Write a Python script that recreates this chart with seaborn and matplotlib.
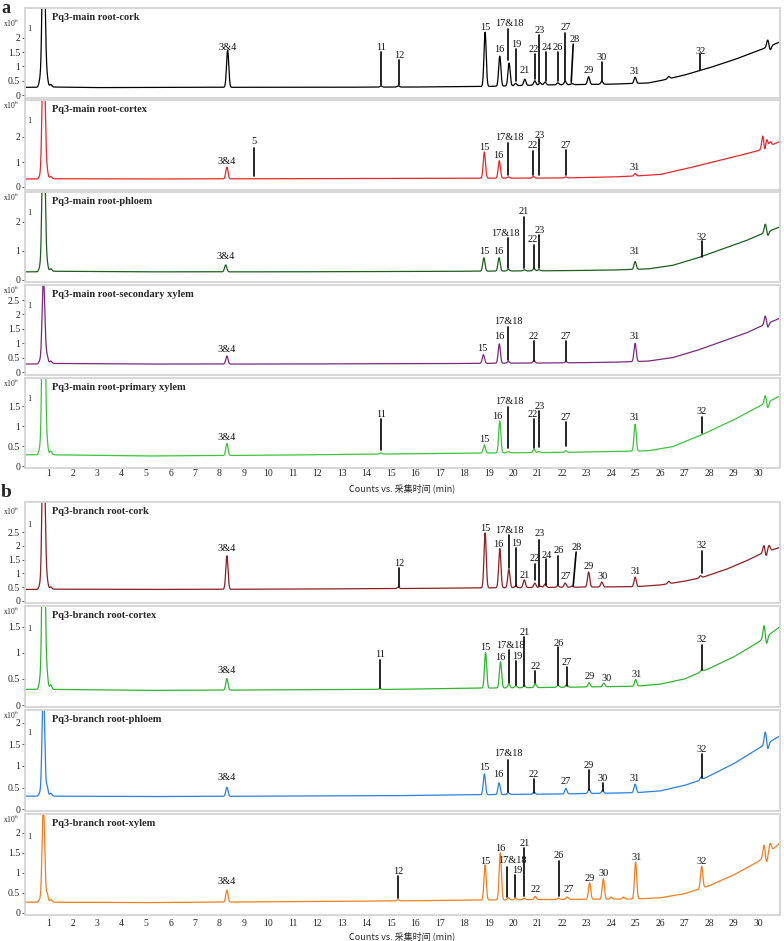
import numpy as np
import pandas as pd
import matplotlib
matplotlib.use("Agg")
import matplotlib.pyplot as plt
import matplotlib.transforms as mtrans
import seaborn as sns

sns.set_theme(style="white")
plt.rcParams["font.family"] = ["Liberation Serif", "Noto Sans CJK SC", "DejaVu Sans"]
plt.rcParams["mathtext.fontset"] = "stix"

# ---------------- data ----------------
x_ticks = list(range(1, 31))
x_label = "Counts vs. 采集时间 (min)"
group_labels = ["a", "b"]
titles = ["Pq3-main root-cork", "Pq3-main root-cortex", "Pq3-main root-phloem",
          "Pq3-main root-secondary xylem", "Pq3-main root-primary xylem",
          "Pq3-branch root-cork", "Pq3-branch root-cortex",
          "Pq3-branch root-phloem", "Pq3-branch root-xylem"]
colors = ["#000000", "#e8262b", "#1d5e1d", "#7a2a7a", "#3cc43c",
          "#8b1f22", "#2fb52f", "#2a7fe3", "#f27f1f"]

# panel 1 : main root cork
p1_base_t = [0.05, 0.6, 0.7, 1.2, 3, 8, 12, 16, 19, 21, 24, 25.5, 26, 27, 28, 29, 30, 30.9]
p1_base_y = [0.27, 0.27, 0.22, 0.28, 0.26, 0.27, 0.27, 0.28, 0.3, 0.35, 0.38, 0.42, 0.5, 0.7, 0.95, 1.23, 1.55, 1.86]
p1_peak_t = [0.67, 0.78, 0.85, 0.95, 1.1, 8.33, 14.6, 15.3, 18.85, 19.45, 19.83, 20.1, 20.47, 20.88, 21.1, 21.3,
             21.82, 22.12, 22.4, 23.08, 23.62, 24.98, 26.35, 30.4, 30.5]
p1_peak_h = [0.3, 4.0, 3.0, 0.35, 0.1, 1.3, 0.04, 0.04, 1.9, 1.05, 0.8, 0.08, 0.22, 0.15, 0.08, 0.1,
             0.07, 0.12, 0.04, 0.27, 0.1, 0.22, 0.08, 0.25, -0.15]
p1_labels = [("3&4", 8.33, 1.68), ("11", 14.6, 1.68, 1.5, 0.35), ("12", 15.33, 1.4, 1.23, 0.35),
             ("15", 18.85, 2.35), ("16", 19.42, 1.58), ("17&18", 19.85, 2.49, 19.8, 2.3, 19.8, 1.23),
             ("19", 20.12, 1.78, 1.6, 0.5), ("21", 20.47, 0.85), ("22", 20.85, 1.58, 20.88, 1.44, 20.88, 0.55),
             ("23", 21.08, 2.25, 21.06, 2.12, 21.06, 0.45), ("24", 21.35, 1.65, 21.32, 1.5, 21.32, 0.5),
             ("26", 21.82, 1.68, 1.5, 0.5), ("27", 22.15, 2.35, 22.12, 2.18, 22.12, 0.5),
             ("28", 22.5, 1.93, 22.45, 1.78, 22.37, 0.45), ("29", 23.08, 0.87), ("30", 23.63, 1.33, 1.16, 0.5),
             ("31", 24.98, 0.84), ("32", 27.65, 1.54, 1.42, 0.88)]

# panel 2 : main root cortex
p2_base_t = [0.05, 0.6, 0.7, 1.2, 5, 10, 15, 18, 22, 24, 25, 26, 27, 28, 29, 30, 30.9]
p2_base_y = [0.32, 0.32, 0.26, 0.33, 0.32, 0.33, 0.34, 0.35, 0.36, 0.4, 0.44, 0.5, 0.72, 0.96, 1.2, 1.45, 1.82]
p2_peak_t = [0.67, 0.78, 0.85, 0.95, 1.1, 8.3, 18.82, 19.43, 19.8, 20.82, 22.15, 24.98, 30.2, 30.28, 30.35, 30.5]
p2_peak_h = [0.15, 4.0, 3.0, 0.35, 0.1, 0.47, 1.05, 0.7, 0.05, 0.06, 0.04, 0.1, 0.55, -0.25, 0.35, 0.15]
p2_labels = [("3&4", 8.3, 1.04), ("5", 9.4, 1.8, 1.58, 0.44), ("15", 18.81, 1.6), ("16", 19.4, 1.24),
             ("17&18", 19.83, 1.96, 19.77, 1.76, 19.77, 0.48), ("22", 20.8, 1.64, 1.44, 0.48),
             ("23", 21.1, 2.08, 21.06, 1.92, 21.06, 0.48), ("27", 22.16, 1.68, 1.48, 0.5), ("31", 24.98, 0.8)]

# panel 3 : main root phloem
p3_base_t = [0.05, 0.6, 0.7, 1.2, 5, 10, 15, 18, 22, 24, 25.5, 26.5, 27.5, 28.5, 29.5, 30.2, 30.9]
p3_base_y = [0.28, 0.28, 0.22, 0.3, 0.28, 0.28, 0.29, 0.3, 0.32, 0.34, 0.38, 0.5, 0.75, 1.05, 1.35, 1.6, 1.83]
p3_peak_t = [0.67, 0.78, 0.85, 0.95, 1.1, 8.25, 18.8, 19.42, 19.8, 20.45, 20.85, 21.05, 24.98, 30.3, 30.4]
p3_peak_h = [0.2, 4.0, 3.0, 0.3, 0.1, 0.24, 0.46, 0.46, 0.06, 0.04, 0.08, 0.04, 0.27, 0.3, -0.15]
p3_labels = [("3&4", 8.25, 0.8), ("15", 18.8, 0.97), ("16", 19.4, 0.97),
             ("17&18", 19.67, 1.6, 19.78, 1.45, 19.78, 0.4), ("21", 20.42, 2.35, 20.45, 2.18, 20.45, 0.4),
             ("22", 20.8, 1.38, 20.85, 1.22, 20.85, 0.4), ("23", 21.1, 1.72, 21.05, 1.56, 21.05, 0.4),
             ("31", 24.98, 0.97), ("32", 27.7, 1.48, 1.33, 0.8)]

# panel 4 : main root secondary xylem
p4_base_t = [0.05, 0.6, 0.7, 1.2, 5, 10, 15, 18, 22, 24, 25.5, 26.5, 27.5, 28.5, 29.5, 30.2, 30.9]
p4_base_y = [0.28, 0.28, 0.22, 0.3, 0.28, 0.28, 0.29, 0.3, 0.32, 0.34, 0.38, 0.5, 0.75, 1.05, 1.35, 1.62, 1.87]
p4_peak_t = [0.67, 0.78, 0.84, 0.95, 1.1, 8.3, 18.78, 19.43, 19.8, 20.85, 22.15, 24.98, 30.3, 30.4]
p4_peak_h = [0.15, 2.1, 1.6, 0.3, 0.1, 0.28, 0.3, 0.67, 0.06, 0.08, 0.04, 0.63, 0.3, -0.15]
p4_labels = [("3&4", 8.3, 0.8), ("15", 18.75, 0.83), ("16", 19.42, 1.22),
             ("17&18", 19.8, 1.74, 19.78, 1.57, 19.78, 0.42), ("22", 20.85, 1.25, 1.08, 0.4),
             ("27", 22.15, 1.25, 1.08, 0.4), ("31", 24.98, 1.25)]

# panel 5 : main root primary xylem
p5_base_t = [0.05, 0.6, 0.7, 1.2, 5, 10, 15, 18, 22, 24, 25.5, 26.5, 27.7, 29, 30, 30.9]
p5_base_y = [0.28, 0.28, 0.22, 0.28, 0.25, 0.27, 0.3, 0.32, 0.34, 0.36, 0.38, 0.48, 0.78, 1.15, 1.48, 1.75]
p5_peak_t = [0.67, 0.78, 0.85, 0.95, 1.1, 8.3, 14.6, 18.82, 19.45, 19.8, 20.85, 21.05, 22.15, 24.98, 30.3, 30.4]
p5_peak_h = [0.2, 4.0, 3.0, 0.3, 0.1, 0.3, 0.03, 0.2, 0.8, 0.03, 0.08, 0.03, 0.04, 0.67, 0.2, -0.15]
p5_labels = [("3&4", 8.3, 0.72), ("11", 14.6, 1.28, 1.17, 0.4), ("15", 18.8, 0.67), ("16", 19.35, 1.23),
             ("17&18", 19.85, 1.6, 19.78, 1.48, 19.78, 0.45), ("22", 20.8, 1.28, 20.85, 1.17, 20.85, 0.45),
             ("23", 21.08, 1.48, 21.05, 1.38, 21.05, 0.48), ("27", 22.15, 1.22, 1.1, 0.5),
             ("31", 24.95, 1.2), ("32", 27.7, 1.35, 1.22, 0.83)]

# panel 6 : branch root cork
p6_base_t = [0.05, 0.6, 0.7, 1.2, 5, 10, 15, 18, 22, 25, 26, 27, 27.7, 28.7, 29.5, 30.2, 30.9]
p6_base_y = [0.42, 0.42, 0.36, 0.43, 0.42, 0.43, 0.45, 0.47, 0.5, 0.52, 0.58, 0.72, 0.85, 1.15, 1.45, 1.75, 1.95]
p6_peak_t = [0.67, 0.78, 0.85, 0.95, 1.1, 8.3, 15.3, 18.85, 19.45, 19.82, 20.1, 20.45, 20.88, 21.1, 21.3,
             21.82, 22.12, 22.4, 23.08, 23.62, 24.98, 26.35, 27.65, 30.25, 30.32, 30.45]
p6_peak_h = [0.2, 4.5, 3.0, 0.35, 0.1, 1.22, 0.05, 2.0, 1.43, 0.66, 0.06, 0.28, 0.16, 0.05, 0.12,
             0.06, 0.15, 0.04, 0.55, 0.18, 0.35, 0.08, 0.08, 0.3, -0.2, 0.2]
p6_labels = [("3&4", 8.3, 1.9), ("12", 15.35, 1.38, 1.2, 0.5), ("15", 18.85, 2.65), ("16", 19.4, 2.07),
             ("17&18", 19.85, 2.58, 19.83, 2.4, 19.83, 1.2), ("19", 20.12, 2.1, 20.1, 1.93, 20.1, 0.55),
             ("21", 20.45, 0.92), ("22", 20.88, 1.53, 1.35, 0.76), ("23", 21.08, 2.44, 21.06, 2.22, 21.06, 0.56),
             ("24", 21.35, 1.67, 21.32, 1.52, 21.32, 0.58), ("26", 21.85, 1.85, 21.82, 1.64, 21.82, 0.58),
             ("27", 22.15, 0.88), ("28", 22.6, 1.96, 22.57, 1.78, 22.45, 0.55), ("29", 23.1, 1.27),
             ("30", 23.65, 0.88), ("31", 25.0, 1.09), ("32", 27.7, 2.0, 1.82, 1.03)]

# panel 7 : branch root cortex
p7_base_t = [0.05, 0.6, 0.7, 1.2, 5, 10, 15, 18, 22, 25, 26, 27, 28, 29, 30, 30.9]
p7_base_y = [0.3, 0.3, 0.24, 0.3, 0.28, 0.29, 0.3, 0.32, 0.34, 0.36, 0.4, 0.5, 0.7, 0.92, 1.2, 1.5]
p7_peak_t = [0.67, 0.78, 0.85, 0.95, 1.1, 8.3, 14.55, 18.87, 19.48, 19.82, 20.1, 20.45, 20.9, 21.83, 22.18,
             23.1, 23.7, 25.0, 27.7, 30.25, 30.35]
p7_peak_h = [0.2, 3.0, 2.0, 0.3, 0.1, 0.22, 0.02, 0.68, 0.5, 0.07, 0.04, 0.04, 0.07, 0.04, 0.05,
             0.08, 0.07, 0.13, 0.04, 0.25, -0.15]
p7_labels = [("3&4", 8.3, 0.67), ("11", 14.55, 0.96, 0.87, 0.33), ("15", 18.85, 1.1), ("16", 19.46, 0.92),
             ("17&18", 19.87, 1.15, 19.83, 1.06, 19.83, 0.42), ("19", 20.15, 0.94, 20.1, 0.85, 20.1, 0.38),
             ("21", 20.45, 1.4, 1.31, 0.37), ("22", 20.92, 0.73, 20.9, 0.65, 20.9, 0.42),
             ("26", 21.87, 1.19, 21.83, 1.12, 21.83, 0.38), ("27", 22.2, 0.81, 22.18, 0.73, 22.18, 0.36),
             ("29", 23.14, 0.54), ("30", 23.8, 0.5), ("31", 25.05, 0.58), ("32", 27.7, 1.25, 1.15, 0.67)]

# panel 8 : branch root phloem
p8_base_t = [0.05, 0.6, 0.7, 1.2, 5, 10, 15, 18, 22, 25, 26, 27, 27.7, 29, 30, 30.9]
p8_base_y = [0.3, 0.3, 0.24, 0.3, 0.29, 0.3, 0.31, 0.33, 0.35, 0.38, 0.42, 0.55, 0.68, 1.05, 1.4, 1.7]
p8_peak_t = [0.67, 0.78, 0.83, 0.95, 1.1, 8.3, 18.82, 19.42, 19.8, 20.85, 22.15, 23.1, 23.65, 24.98, 27.68,
             30.3, 30.4]
p8_peak_h = [0.1, 1.8, 1.2, 0.25, 0.08, 0.21, 0.48, 0.27, 0.04, 0.05, 0.13, 0.1, 0.06, 0.2, 0.07, 0.3, -0.15]
p8_labels = [("3&4", 8.3, 0.74), ("15", 18.82, 0.97), ("16", 19.4, 0.81), ("17&18", 19.8, 1.28, 1.15, 0.4),
             ("22", 20.85, 0.81, 0.7, 0.38), ("27", 22.15, 0.63), ("29", 23.1, 1.01, 0.9, 0.45),
             ("30", 23.65, 0.7, 0.6, 0.42), ("31", 24.98, 0.72), ("32", 27.7, 1.39, 1.27, 0.72)]

# panel 9 : branch root xylem
p9_base_t = [0.05, 0.6, 0.7, 1.2, 5, 10, 15, 18, 22, 25, 26, 27, 28, 29, 30, 30.9]
p9_base_y = [0.27, 0.27, 0.2, 0.27, 0.26, 0.28, 0.3, 0.32, 0.34, 0.35, 0.38, 0.48, 0.68, 0.95, 1.28, 1.75]
p9_peak_t = [0.67, 0.78, 0.83, 0.95, 1.1, 8.3, 15.3, 18.85, 19.47, 19.8, 20.1, 20.45, 20.9, 21.85, 22.2,
             23.12, 23.68, 24.0, 24.5, 25.0, 27.7, 30.25, 30.35, 30.5]
p9_peak_h = [0.1, 1.7, 1.2, 0.25, 0.08, 0.3, 0.03, 0.88, 1.18, 0.05, 0.04, 0.04, 0.08, 0.03, 0.06,
             0.41, 0.51, 0.05, 0.05, 0.93, 0.55, 0.3, -0.2, 0.2]
p9_labels = [("3&4", 8.3, 0.78), ("12", 15.3, 1.05, 0.92, 0.38), ("15", 18.85, 1.3), ("16", 19.48, 1.62),
             ("17&18", 19.98, 1.32, 19.75, 1.15, 19.75, 0.4), ("19", 20.15, 1.07, 20.08, 0.95, 20.08, 0.4),
             ("21", 20.48, 1.75, 20.45, 1.62, 20.45, 0.42), ("22", 20.93, 0.58),
             ("26", 21.87, 1.45, 1.3, 0.42), ("27", 22.28, 0.6), ("29", 23.14, 0.87), ("30", 23.7, 1.0),
             ("31", 25.05, 1.4), ("32", 27.7, 1.3)]

panels = [
    (p1_base_t, p1_base_y, p1_peak_t, p1_peak_h, p1_labels),
    (p2_base_t, p2_base_y, p2_peak_t, p2_peak_h, p2_labels),
    (p3_base_t, p3_base_y, p3_peak_t, p3_peak_h, p3_labels),
    (p4_base_t, p4_base_y, p4_peak_t, p4_peak_h, p4_labels),
    (p5_base_t, p5_base_y, p5_peak_t, p5_peak_h, p5_labels),
    (p6_base_t, p6_base_y, p6_peak_t, p6_peak_h, p6_labels),
    (p7_base_t, p7_base_y, p7_peak_t, p7_peak_h, p7_labels),
    (p8_base_t, p8_base_y, p8_peak_t, p8_peak_h, p8_labels),
    (p9_base_t, p9_base_y, p9_peak_t, p9_peak_h, p9_labels),
]

# ---------------- layout / style ----------------
W, H = 784, 941
frames = [(8, 98), (100, 190), (192, 282), (285, 375), (378, 468),
          (502, 603), (606, 707), (710, 811), (814, 915)]
ylims = [(-0.105, 3.05), (-0.12, 3.48), (-0.07, 3.03), (-0.1, 3.02), (-0.05, 2.2),
         (-0.073, 3.6), (-0.038, 1.9), (-0.045, 2.3), (-0.05, 2.475)]
yticks = [[0, 0.5, 1, 1.5, 2], [0, 1, 2], [0, 1, 2], [0, 0.5, 1, 1.5, 2, 2.5], [0, 0.5, 1, 1.5],
          [0, 0.5, 1, 1.5, 2, 2.5], [0, 0.5, 1, 1.5], [0, 0.5, 1, 1.5, 2], [0, 0.5, 1, 1.5, 2]]
x10_off = [15, 5, 5, 5, 5, 9, 5, 5, 5]
xlabel_px = {4: 488, 8: 936}
xtick_pad = {4: 1.0, 8: 3.0}
XL, XR = 25, 780
SIGMA = 0.045

fig = plt.figure(figsize=(W / 100, H / 100), dpi=100)
fig.patch.set_facecolor("white")

tgrid = np.linspace(0.05, 30.9, 6000)

for i, (bt, by, pt, ph, labs) in enumerate(panels):
    top, bot = frames[i]
    ax = fig.add_axes([XL / W, 1 - bot / H, (XR - XL) / W, (bot - top) / H])
    sig = np.interp(tgrid, bt, by)
    for t0, h0 in zip(pt, ph):
        sig = sig + h0 * np.exp(-0.5 * ((tgrid - t0) / SIGMA) ** 2)
    df = pd.DataFrame({"t": tgrid, "y": sig})
    sns.lineplot(data=df, x="t", y="y", ax=ax, color=colors[i], linewidth=0.9,
                 estimator=None, errorbar=None)
    ax.set_xlim(0.05, 30.9)
    ax.set_ylim(*ylims[i])
    ax.set_xlabel("")
    ax.set_ylabel("")
    ax.set_facecolor("white")
    for s in ax.spines.values():
        s.set_color("#d4d4d4")
        s.set_linewidth(1.3)
    ax.set_yticks(yticks[i])
    ax.set_yticklabels([("%g" % v) for v in yticks[i]], fontsize=7)
    ax.tick_params(axis="y", which="both", left=True, length=2.5, width=0.7, color="#555555", pad=1)
    if i in xtick_pad:
        ax.set_xticks(x_ticks)
        ax.set_xticklabels([str(v) for v in x_ticks], fontsize=7)
        ax.tick_params(axis="x", bottom=False, length=0, pad=xtick_pad[i])
    else:
        ax.set_xticks([])
    # annotations
    for lab in labs:
        name, tx, ty = lab[0], lab[1], lab[2]
        ax.text(tx, ty, name, ha="center", va="center", fontsize=7.5, color="#111111")
        if len(lab) == 5:
            ax.plot([tx, tx], [lab[3], lab[4]], color="black", lw=1.2)
        elif len(lab) == 7:
            ax.plot([lab[3], lab[5]], [lab[4], lab[6]], color="black", lw=1.2)
    trans = mtrans.blended_transform_factory(ax.transData, ax.transAxes)
    ax.text(0.14, 0.77, "1", transform=trans, fontsize=6, ha="left", va="center")
    # header
    ax.text((52 - XL) / (XR - XL), 1 - 9 / (bot - top), titles[i], transform=ax.transAxes,
            fontsize=7.5, fontweight="bold", ha="left", va="center")
    ax.text(-22 / (XR - XL), 1 - x10_off[i] / (bot - top), "x10$^{6}$", transform=ax.transAxes,
            fontsize=5.5, ha="left", va="center")
    if i in xlabel_px:
        fig.text(402 / W, 1 - xlabel_px[i] / H, x_label, fontsize=6.5, ha="center", va="center",
                 family=["Noto Sans CJK SC", "DejaVu Sans"])

fig.text(1 / W, 1 - 0 / H, group_labels[0], fontsize=13, fontweight="bold", ha="left", va="top")
fig.text(1 / W, 1 - 492 / H, group_labels[1], fontsize=14, fontweight="bold", ha="left", va="center")

fig.savefig("out.png", dpi=100, facecolor="white")
